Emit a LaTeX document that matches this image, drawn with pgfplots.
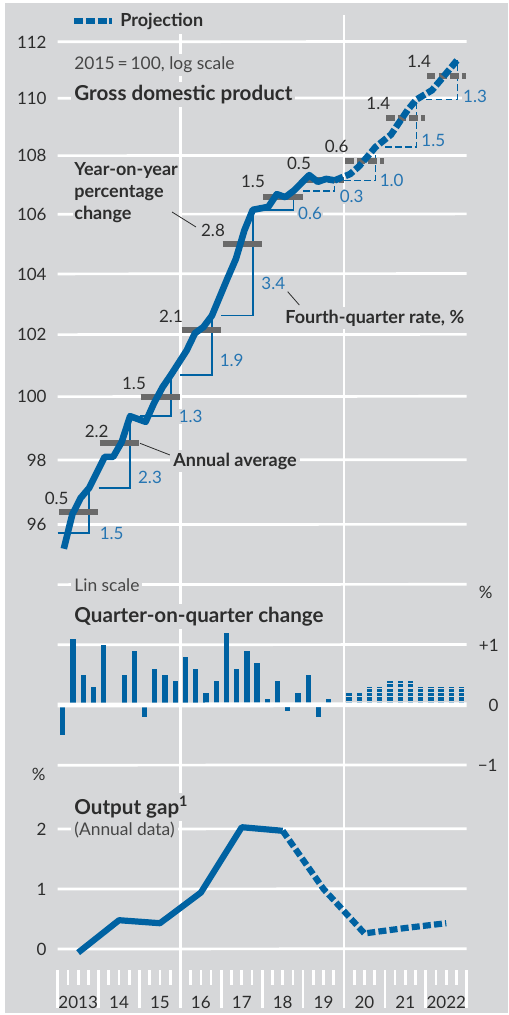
\documentclass[border=0pt]{standalone}
\usepackage{fontspec}
\setmainfont{Lato}
\usepackage{pgfplots}
\pgfplotsset{compat=1.18}
\definecolor{bg}{RGB}{214,215,217}
\definecolor{bl}{RGB}{0,98,162}
\definecolor{bltxt}{RGB}{38,117,178}
\definecolor{gbar}{RGB}{106,106,106}
\definecolor{txt}{RGB}{45,45,45}
\definecolor{txt2}{RGB}{70,70,70}
\newcommand\tk{\fontsize{8.5}{10}\selectfont}
\newcommand\an{\fontsize{8.7}{10}\selectfont}
\newcommand\anb{\fontsize{9}{11}\selectfont\bfseries}
\newcommand\ttl{\fontsize{10.3}{12}\selectfont\bfseries}
\pgfplotsset{common/.style={anchor=south west, scale only axis, width=204.5pt,
  xmin=2013, xmax=2023, xtick=\empty, ytick=\empty, axis line style={draw=none},
  major tick length=0pt, clip=false},
  gridl/.style={white, line width=1.35pt, unbounded coords=jump, forget plot}}
\begin{document}
\begin{tikzpicture}
\begin{scope}[x=0.5pt,y=-0.5pt]
\path (0,0) rectangle (508,1015);
\fill[bg] (5,3) rectangle (508,1013);
\draw[white,line width=1.35pt] (180.4,15)--(180.4,1008) (344,15)--(344,1008);
\foreach \i in {0,...,10}{\draw[white,line width=1.35pt] ({57.7+40.9*\i},970)--({57.7+40.9*\i},1008);}
\foreach \i in {0,...,9}{\foreach \q in {1,2,3}{\draw[white,line width=1.35pt] ({57.7+40.9*(\i+\q/4)},970)--({57.7+40.9*(\i+\q/4)},985);}}
\foreach \l [count=\i from 0] in {2013,14,15,16,17,18,19,20,21,2022}
  \node[anchor=base, inner sep=0pt, text=txt, font=\tk] at ({57.7+40.9*(\i+0.5)},1008) {\l};
\end{scope}

% ---------- GDP (log scale) ----------
\begin{axis}[common, at={(28.85pt,-278.75pt)}, height=271.7pt,
  ymode=log, ymin=95, ymax=113]
\addplot[gridl] coordinates {
 (2013,96) (2023,96.01) (2023.1,nan) (2013,98) (2023,98.01) (2023.1,nan)
 (2013,100) (2023,100.01) (2023.1,nan) (2013,102) (2023,102.01) (2023.1,nan)
 (2013,104) (2023,104.01) (2023.1,nan) (2013,106) (2023,106.01) (2023.1,nan)
 (2013,108) (2023,108.01) (2023.1,nan) (2013,110) (2023,110.01) (2023.1,nan)
 (2013,112) (2023,112.01)};
\addplot[bl, line width=0.75pt, unbounded coords=jump] coordinates {
 (2013,95.74) (2013.77,95.74) (2013.77,97.13) (2013.9,nan)
 (2014,97.13) (2014.77,97.13) (2014.77,99.38) (2014.9,nan)
 (2015,99.38) (2015.77,99.38) (2015.77,100.7) (2015.9,nan)
 (2016,100.7) (2016.77,100.7) (2016.77,102.62) (2016.9,nan)
 (2017,102.62) (2017.77,102.62) (2017.77,106.15) (2017.9,nan)
 (2018,106.15) (2018.77,106.15) (2018.77,106.8)};
\addplot[bl, line width=0.75pt, dash pattern=on 3.3pt off 1.7pt, unbounded coords=jump] coordinates {
 (2019,106.8) (2019.77,106.8) (2019.77,107.15) (2019.9,nan)
 (2020,107.15) (2020.77,107.15) (2020.77,108.3) (2020.9,nan)
 (2021,108.3) (2021.77,108.3) (2021.77,109.95) (2021.9,nan)
 (2022,109.95) (2022.77,109.95) (2022.77,111.35)};
\addplot[gbar, line width=3pt, unbounded coords=jump] coordinates {
 (2013.03,96.4) (2013.99,96.4) (2013.995,nan)
 (2014.03,98.53) (2014.99,98.53) (2014.995,nan)
 (2015.03,100.0) (2015.99,100.0) (2015.995,nan)
 (2016.03,102.15) (2016.99,102.15) (2016.995,nan)
 (2017.03,104.98) (2017.99,104.98) (2017.995,nan)
 (2018.03,106.6) (2018.99,106.6)};
\addplot[gbar, line width=3pt, dash pattern=on 4.2pt off 1.6pt, unbounded coords=jump] coordinates {
 (2019.03,107.17) (2019.99,107.17) (2019.995,nan)
 (2020.03,107.82) (2020.99,107.82) (2020.995,nan)
 (2021.03,109.31) (2021.99,109.31) (2021.995,nan)
 (2022.03,110.78) (2022.99,110.78)};
\addplot[bl, line width=3.3pt, line join=round] coordinates {
 (2013.15,95.26) (2013.357,96.31) (2013.563,96.82) (2013.77,97.13)
 (2014.15,98.1) (2014.357,98.1) (2014.563,98.56) (2014.77,99.38)
 (2015.15,99.2) (2015.357,99.8) (2015.563,100.3) (2015.77,100.7)
 (2016.15,101.48) (2016.357,102.05) (2016.563,102.25) (2016.77,102.62)
 (2017.15,103.85) (2017.357,104.5) (2017.563,105.45) (2017.77,106.15)
 (2018.15,106.25) (2018.357,106.68) (2018.563,106.58) (2018.77,106.8)
 (2019.15,107.33) (2019.357,107.1) (2019.563,107.2) (2019.77,107.15)};
\addplot[bl, line width=3.3pt, dash pattern=on 4.5pt off 1.4pt] coordinates {
 (2019.77,107.15)
 (2020.15,107.37) (2020.357,107.62) (2020.563,107.95) (2020.77,108.3)
 (2021.15,108.73) (2021.357,109.17) (2021.563,109.6) (2021.77,109.95)
 (2022.15,110.28) (2022.357,110.63) (2022.563,110.99) (2022.77,111.35)};
\end{axis}

% ---------- Quarter-on-quarter ----------
\begin{axis}[common, at={(28.85pt,-382.6pt)}, height=90.3pt,
  ymin=-1, ymax=2]
\addplot[gridl] coordinates {
 (2013,-1) (2023,-0.995) (2023.1,nan) (2013,1) (2023,1.005) (2023.1,nan) (2013,2) (2023,2.005)};
\addplot[ycomb, bl, line width=2.65pt] coordinates {
 (2013.125,-0.5) (2013.375,1.1) (2013.625,0.5) (2013.875,0.3)
 (2014.125,1.0) (2014.375,0.0) (2014.625,0.5) (2014.875,0.9)
 (2015.125,-0.2) (2015.375,0.6) (2015.625,0.5) (2015.875,0.4)
 (2016.125,0.8) (2016.375,0.6) (2016.625,0.2) (2016.875,0.4)
 (2017.125,1.2) (2017.375,0.6) (2017.625,0.9) (2017.875,0.7)
 (2018.125,0.1) (2018.375,0.4) (2018.625,-0.1) (2018.875,0.2)
 (2019.125,0.5) (2019.375,-0.2) (2019.625,0.1) (2019.875,-0.04)};
\addplot[ycomb, bl, line width=2.65pt, dash pattern=on 1.6pt off 0.6pt] coordinates {
 (2020.125,0.2) (2020.375,0.2) (2020.625,0.3) (2020.875,0.3)
 (2021.125,0.4) (2021.375,0.4) (2021.625,0.4) (2021.875,0.3)
 (2022.125,0.3) (2022.375,0.3) (2022.625,0.3) (2022.875,0.3)};
\addplot[white, line width=2.4pt, forget plot] coordinates {(2013,0) (2023,0.005)};
\end{axis}

% ---------- Output gap ----------
\begin{axis}[common, at={(28.85pt,-489.5pt)}, height=90pt,
  ymin=-0.5, ymax=2.5]
\addplot[gridl] coordinates {
 (2013,0) (2023,0.005) (2023.1,nan) (2013,1) (2023,1.005) (2023.1,nan) (2013,2) (2023,2.005)};
\addplot[bl, line width=3.1pt, line join=round] coordinates {
 (2013.5,-0.06) (2014.5,0.48) (2015.5,0.43) (2016.5,0.94) (2017.5,2.03) (2018.5,1.97)};
\addplot[bl, line width=3.1pt, dash pattern=on 4pt off 1.6pt] coordinates {
 (2018.5,1.97) (2019.5,1.0) (2020.5,0.26) (2021.5,0.35) (2022.5,0.43)};
\end{axis}

% ---------- annotations ----------
\begin{scope}[x=0.5pt,y=-0.5pt, every node/.style={inner sep=1.5pt}]
% legend
\fill[bg] (68,8) rectangle (210,34);
\draw[bl, line width=3.3pt, dash pattern=on 4.5pt off 1.4pt] (74,21)--(112,21);
\node[anchor=base west, text=txt, font=\anb, inner sep=0pt] at (120,26.7) {Projection};
% left ticks top
\foreach \v/\yy in {112/42,110/98.4,108/155.9,106/214.4,104/274.1,102/334.9,100/396.9,98/460.2,96/524.8}
  \node[anchor=east, inner sep=0pt, text=txt, font=\tk] at (47,\yy) {\v};
\node[anchor=base west, fill=bg, text=txt2, font=\an] at (71,70) {2015\,=\,100, log scale};
\node[anchor=base west, fill=bg, text=txt, font=\ttl] at (71,100.7) {Gross domestic product};
\node[anchor=north west, fill=bg, text=txt, font=\anb, align=left, inner sep=0.5pt] at (73,161) {Year-on-year\\percentage\\change};
\draw[txt, line width=0.4pt] (172,212)--(196,227);
% annual averages
\foreach \l/\xx/\yy in {0.5/56.7/498, 2.2/96.7/431.7, 1.5/134/383.3, 2.1/171/316, 2.8/213/230,
  1.5/253/181.7, 0.5/299/163.3, 0.6/336.7/146.7, 1.4/378.3/103.3, 1.4/419/61.7}
  \node[text=txt, font=\tk, inner sep=0.5pt] at (\xx,\yy) {\l};
% fourth-quarter rates
\foreach \l/\xx/\yy in {1.5/111.7/533.3, 2.3/150/477.3, 1.3/190.7/416.7, 1.9/231.7/360, 3.4/273.3/283.3,
  0.6/310/213.3, 0.3/351.7/196.7, 1.0/391.7/180, 1.5/433.3/140, 1.3/475/96.7}
  \node[text=bltxt, font=\tk, fill=bg, inner sep=0.5pt] at (\xx,\yy) {\l};
\draw[txt, line width=0.4pt] (140,443.3)--(170,455);
\node[anchor=base west, fill=bg, text=txt, font=\anb] at (170,466) {Annual average};
\draw[txt, line width=0.4pt] (287.7,291.7)--(299.3,305);
\node[anchor=base west, fill=bg, text=txt, font=\anb] at (282,323.3) {Fourth-quarter rate, \%};
% middle panel
\node[anchor=base west, fill=bg, text=txt2, font=\an] at (71,591.7) {Lin scale};
\node[anchor=base west, fill=bg, text=txt, font=\ttl] at (71,622) {Quarter-on-quarter change};
\node[anchor=base east, inner sep=0pt, text=txt, font=\tk] at (493,598.3) {\%};
\node[anchor=east, inner sep=0pt, text=txt, font=\tk] at (499,645.3) {+1};
\node[anchor=east, inner sep=0pt, text=txt, font=\tk] at (499,705) {0};
\node[anchor=east, inner sep=0pt, text=txt, font=\tk] at (498,765.2) {−1};
% bottom panel
\node[anchor=base east, inner sep=0pt, text=txt, font=\tk] at (46,780.7) {\%};
\node[anchor=base west, fill=bg, text=txt, font=\ttl] at (71,814) {Output gap\textsuperscript{1}};
\node[anchor=base west, fill=bg, text=txt2, font=\an] at (71,835) {(Annual data)};
\foreach \v/\yy in {2/829,1/889.3,0/949}
  \node[anchor=east, inner sep=0pt, text=txt, font=\tk] at (47,\yy) {\v};
\end{scope}
\end{tikzpicture}
\end{document}
